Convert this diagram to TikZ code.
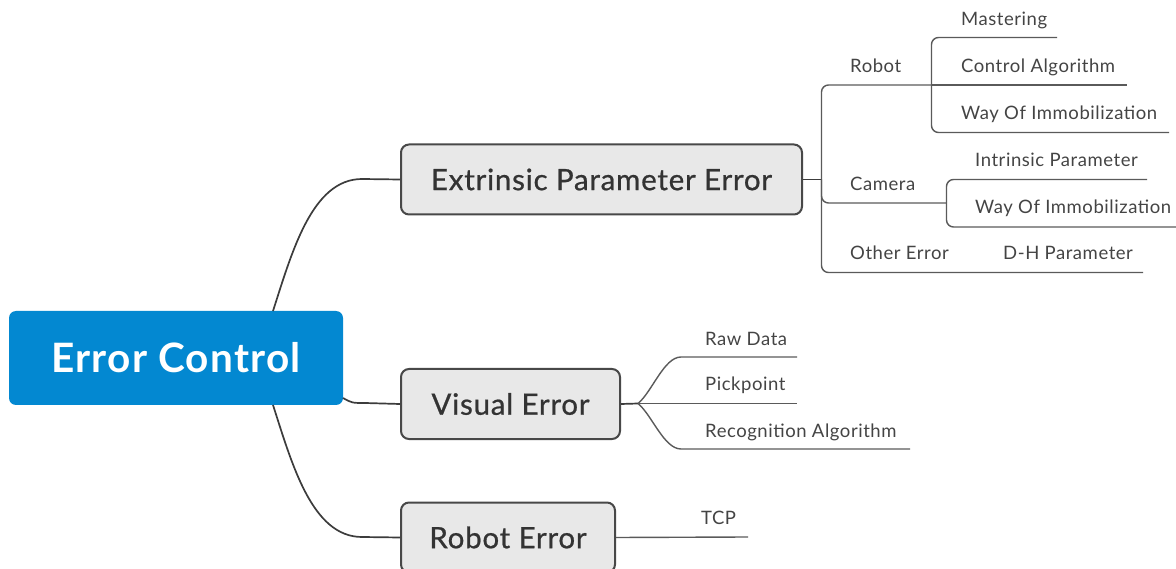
\documentclass[tikz,border=0pt]{standalone}
\usepackage{fontspec}
\setmainfont{Lato}[LetterSpace=3]
\newfontfamily\boxfont{Lato}[LetterSpace=2.6, FakeBold=0.7]
\definecolor{rootblue}{RGB}{3,136,209}
\definecolor{boxgray}{RGB}{232,232,232}
\definecolor{edgegray}{RGB}{72,72,72}
\definecolor{textgray}{RGB}{51,51,51}
\definecolor{leafgray}{RGB}{68,68,68}
\definecolor{linegray}{RGB}{60,60,60}
\definecolor{subgray}{RGB}{90,90,90}
\begin{document}
\begin{tikzpicture}[x=1pt,y=-1pt,
 root/.style={fill=rootblue, rounded corners=7pt, text=white, font=\fontsize{40.5}{48}\selectfont\bfseries, minimum width=334pt, minimum height=94pt, inner sep=0},
 mainbox/.style={fill=boxgray, draw=edgegray, line width=2pt, rounded corners=8pt, font=\boxfont\fontsize{29.5}{34}\selectfont, text=textgray, minimum height=70pt, inner sep=0},
 leaf/.style={anchor=base west, font=\fontsize{18.5}{22}\selectfont, text=leafgray, inner sep=0},
 conn/.style={draw=linegray, line width=1.7pt},
 sub/.style={draw=subgray, line width=1.4pt, rounded corners=7pt}]
\useasboundingbox (0,0) rectangle (1176,569);
\clip (0,0) rectangle (1176,569);

% main nodes
\node[root] (root) at (176,358) {Error Control};
\node[mainbox, minimum width=401pt] (ext) at (601.5,179.5) {Extrinsic Parameter Error};
\node[mainbox, minimum width=219pt] (vis) at (510.5,404) {Visual Error};
\node[mainbox, minimum width=214pt] (rob) at (508,537.5) {Robot Error};

% root connectors
\coordinate (rtop) at (273,311);
\coordinate (rbot) at (273,405);
\coordinate (rmid) at (343,398);
\draw[conn] (rtop) .. controls (292,252) and (312,179) .. (362,179) -- (ext.west);
\draw[conn] (rbot) .. controls (292,464) and (312,537) .. (362,537) -- (rob.west);
\draw[conn] (rmid) .. controls (352,403) .. (365,403) -- (vis.west);

% extrinsic branch
\coordinate (e0) at (821.5,179.5);
\coordinate (r1) at (931.5,85);
\coordinate (c1) at (946.5,203);
\coordinate (mastE) at (1057,37.5);
\coordinate (ctrlE) at (1127,85);
\coordinate (way1E) at (1169,132.5);
\coordinate (intrE) at (1147,179.5);
\coordinate (way2E) at (1178,227);
\coordinate (dhE) at (1143,272.5);
\draw[conn] (ext.east) -- (e0);
\draw[sub] (e0) |- (r1);
\draw[sub] (e0) |- (c1);
\draw[sub] (e0) |- (dhE);
\draw[sub] (r1) |- (mastE);
\draw[sub] (r1) -- (ctrlE);
\draw[sub] (r1) |- (way1E);
\draw[sub] (c1) |- (intrE);
\draw[sub] (c1) |- (way2E);

\node[leaf] (robot) at (850,73) {Robot};
\node[leaf] (mast) at (961,26) {Mastering};
\node[leaf] (ctrl) at (961,73) {Control Algorithm};
\node[leaf] (way1) at (961,120) {Way Of Immobilization};
\node[leaf] (camera) at (850,191) {Camera};
\node[leaf] (intr) at (975,167) {Intrinsic Parameter};
\node[leaf] (way2) at (975,214) {Way Of Immobilization};
\node[leaf] (other) at (850,260) {Other Error};
\node[leaf] (dh) at (1003,260) {D-H Parameter};

% visual branch
\coordinate (v0) at (638,403.5);
\coordinate (rawS) at (688,357);
\coordinate (rawE) at (797,357);
\coordinate (pickE) at (797,403.5);
\coordinate (recS) at (688,449);
\coordinate (recE) at (910,449);
\draw[conn] (vis.east) -- (v0);
\draw[sub] (v0) .. controls (652,392) and (664,357) .. (rawS) -- (rawE);
\draw[sub] (v0) -- (pickE);
\draw[sub] (v0) .. controls (652,415) and (664,449) .. (recS) -- (recE);
\node[leaf] (raw) at (705,346) {Raw Data};
\node[leaf] (pick) at (705,391) {Pickpoint};
\node[leaf] (rec) at (705,437) {Recognition Algorithm};

% robot branch
\coordinate (tcpE) at (748,537);
\draw[sub] (rob.east) -- (tcpE);
\node[leaf] (tcp) at (701,524) {TCP};
\end{tikzpicture}
\end{document}
